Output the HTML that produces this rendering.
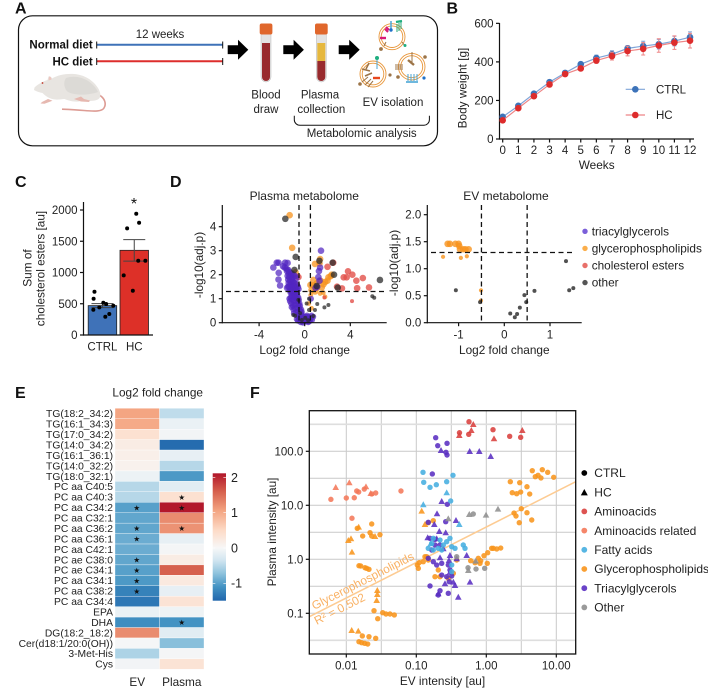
<!DOCTYPE html>
<html lang="en">
<head>
<meta charset="utf-8">
<title>Metabolomic analysis figure</title>
<style>
html,body{margin:0;padding:0;background:#fff;width:708px;height:691px;overflow:hidden}
svg{display:block;font-family:"Liberation Sans",Arial,sans-serif;fill:#222;filter:blur(.3px)}
text{fill:#222}
.lbl{font-size:11.8px}
.tick{font-size:11.5px}
.panel{font-size:16px;font-weight:bold;fill:#111}
.axis{stroke:#111;stroke-width:1.2;fill:none}
.dash{stroke:#111;stroke-width:1.3;stroke-dasharray:5 3.5;fill:none}
</style>
</head>
<body>
<svg id="figure" xmlns="http://www.w3.org/2000/svg" width="708" height="691" viewBox="0 0 708 691">
<defs><linearGradient id="cbar-grad" x1="0" y1="0" x2="0" y2="1"></linearGradient></defs>

<!-- Panel letters -->
<text class="panel" x="15" y="13.5">A</text>
<text class="panel" x="446.5" y="13.5">B</text>
<text class="panel" x="15" y="187">C</text>
<text class="panel" x="170" y="187">D</text>
<text class="panel" x="15" y="398">E</text>
<text class="panel" x="250" y="398">F</text>

<!-- Panel A -->
<g id="panel-a">
  <rect x="18.5" y="15.8" width="419" height="130" rx="14" fill="none" stroke="#111" stroke-width="1.2"/>
  <text x="160" y="38" text-anchor="middle" font-size="11.5">12 weeks</text>
  <text x="92.7" y="48.5" text-anchor="end" font-size="11.5" font-weight="bold" style="fill:#111">Normal diet</text>
  <text x="92.7" y="65.5" text-anchor="end" font-size="11.5" font-weight="bold" style="fill:#111">HC diet</text>
  <path d="M97 44.7H222.5" stroke="#3f72b8" stroke-width="2" fill="none"/>
  <path d="M96.7 41.5V48.5M222.7 41.5V48.5" stroke="#111" stroke-width="1" fill="none"/>
  <path d="M97 61.3H222.5" stroke="#dd2e2c" stroke-width="2" fill="none"/>
  <path d="M96.7 58V65M222.7 58V65" stroke="#111" stroke-width="1" fill="none"/>
  <path d="M227.7 45.3h10.3v-5.6l10.3 10-10.3 10v-5.6h-10.3z" style="fill:#000"/>
  <path d="M283.3 45.3h10.3v-5.6l10.3 10-10.3 10v-5.6h-10.3z" style="fill:#000"/>
  <path d="M338.7 45.3h10.5v-5.6l10.5 10-10.5 10v-5.6h-10.5z" style="fill:#000"/>
  <!-- Tube 1 -->
  <g>
    <path d="M261 33V77a5 5 0 0 0 10 0V33z" style="fill:#e3e3e3" stroke="#bbb" stroke-width=".5"/>
    <path d="M262 43V77a4 4 0 0 0 8 0V43z" style="fill:#982a2d"/>
    <rect x="259.7" y="23.5" width="12.7" height="11" rx="2" style="fill:#e0672c"/>
  </g>
  <!-- Tube 2 -->
  <g>
    <path d="M316.3 33V77a5 5 0 0 0 10 0V33z" style="fill:#e3e3e3" stroke="#bbb" stroke-width=".5"/>
    <path d="M317.3 43H325.3V61H317.3z" style="fill:#e6b83e"/>
    <path d="M317.3 61V77a4 4 0 0 0 8 0V61z" style="fill:#982a2d"/>
    <rect x="315" y="23.5" width="12.7" height="11" rx="2" style="fill:#e0672c"/>
  </g>
  <!-- EV icons -->
  <g fill="none">
    <circle cx="392" cy="36.7" r="13" stroke="#e8963a" stroke-width=".9"/>
    <circle cx="392" cy="36.7" r="10.8" stroke="#e8963a" stroke-width=".9"/>
    <path d="M385 29l3 3M386 27l3 3" stroke="#d81b78" stroke-width="2"/>
    <path d="M380 38h6" stroke="#d81b78" stroke-width="2.4"/>
    <path d="M391 21v9" stroke="#4aa6d6" stroke-width="1.5"/>
    <circle cx="391" cy="30" r="1.7" style="fill:#1e70c8"/>
    <path d="M397 24v8M399 23v8M401 22v7" stroke="#2aa77a" stroke-width="1"/>
    <path d="M396 22l6-1" stroke="#1fae80" stroke-width="2.4"/>
    <path d="M384 46l2-4M402 42l3 4" stroke="#9c7447" stroke-width="1"/>
    <circle cx="381" cy="49" r="1.9" style="fill:#9c7447"/>
    <circle cx="405" cy="45.5" r="1.5" style="fill:#1fae80"/>
  </g>
  <g fill="none">
    <circle cx="373" cy="74" r="13" stroke="#e8963a" stroke-width=".9"/>
    <circle cx="373" cy="74" r="10.8" stroke="#e8963a" stroke-width=".9"/>
    <path d="M377 60v9" stroke="#4aa6d6" stroke-width="1"/>
    <circle cx="377" cy="58" r="2" style="fill:#1fae80"/>
    <path d="M369 63l-3 6M362 69l8 2M365 76l7-3" stroke="#9c7447" stroke-width="1.6"/>
    <path d="M373 78h7" stroke="#e8471c" stroke-width="2.4"/>
    <path d="M362 82l6-5M365 85l6-6M368 87l5-6" stroke="#9c7447" stroke-width="1"/>
    <circle cx="360" cy="84" r="1.8" style="fill:#9c7447"/>
    <circle cx="390" cy="75" r="1.6" style="fill:#9c7447"/>
  </g>
  <g fill="none">
    <circle cx="411.7" cy="66.7" r="13.3" stroke="#e8963a" stroke-width=".9"/>
    <circle cx="411.7" cy="66.7" r="11" stroke="#e8963a" stroke-width=".9"/>
    <path d="M412 52v10M395 65h8M395 67h8M395 69h8" stroke="#9c7447" stroke-width="1"/>
    <path d="M408 60l6 5" stroke="#9c7447" stroke-width="2.4"/>
    <path d="M408 74v7M411 74v7M414 74v7M417 74v7" stroke="#4aa6d6" stroke-width="1"/>
    <path d="M406 82h12" stroke="#4aa6d6" stroke-width="1.6"/>
    <circle cx="424" cy="78" r="1.6" style="fill:#1e70c8"/>
    <circle cx="398" cy="77" r="1.8" style="fill:#9c7447"/>
    <circle cx="425" cy="57" r="1.8" style="fill:#9c7447"/>
  </g>
  <text x="266" y="98.5" text-anchor="middle" font-size="11.5">Blood</text>
  <text x="266" y="113" text-anchor="middle" font-size="11.5">draw</text>
  <text x="320" y="98.5" text-anchor="middle" font-size="11.5">Plasma</text>
  <text x="321.3" y="113" text-anchor="middle" font-size="11.5">collection</text>
  <text x="393" y="106" text-anchor="middle" font-size="11.5">EV isolation</text>
  <path d="M294.3 115.7v4a5.5 5.5 0 0 0 5.5 5.5H424a5.5 5.5 0 0 0 5.4-5.5v-4" fill="none" stroke="#111" stroke-width="1"/>
  <text x="361.7" y="137" text-anchor="middle" font-size="11.5">Metabolomic analysis</text>
  <!-- Rat -->
  <g>
    <path d="M99 95c6 3 7.500 9 5 13-2 3.500-9 3.500-20 2.500-8-.7-15-1-22-1.300" fill="none" stroke="#dd9c94" stroke-width="1.6"/>
    <path d="M34.500 87.500c3-3 8-6 13-7.500l1-3.500c1.500-.5 3 .5 3.500 2 6-3.500 14-5 22-4.500 10 .6 19 6 24 14 2.500 4 3 8 1.500 10-2 3-9 3.500-16 2.500l-5 1c-6 .5-10-1-14-2.500-3 0-6 1-9 .5-6-.5-10-3.500-13-6.500-3-.5-6-1.500-8.500-3z" style="fill:#e8e5e1"/>
    <path d="M66 78c12-4 26 2 32 14-8 3-22 4-30 0-4-3-5-10-2-14z" style="fill:#dcdad6"/>
    <path d="M48 99l-6 3-1.500 1.500 4 .2 8-3zM74 99l7 2.500 8 .5 1-1.500-6-1.500-3-2.500z" style="fill:#e6b8b0"/>
    <circle cx="42.500" cy="83" r=".9" style="fill:#c0392b"/>
    <path d="M49 76.500c1.500-.3 2.500 1 2.500 3l-3 1z" style="fill:#ecc7c0"/>
  </g>
</g>

<!-- Panel B -->
<g id="panel-b">
  <text class="lbl" transform="translate(466.5 88) rotate(-90)" text-anchor="middle">Body weight [g]</text>
  <text class="lbl" x="596.7" y="169" text-anchor="middle">Weeks</text>
</g>

<!-- Panel C -->
<g id="panel-c">
  <text class="lbl" transform="translate(31.5 268) rotate(-90)" text-anchor="middle">Sum of</text>
  <text class="lbl" transform="translate(44.5 268.500) rotate(-90)" text-anchor="middle">cholesterol esters [au]</text>
  <text x="134" y="209" font-size="16" text-anchor="middle" style="fill:#111">*</text>
</g>

<!-- Panel D -->
<g id="panel-d-plasma">
  <text class="lbl" x="304.3" y="200" text-anchor="middle" style="font-size:12px">Plasma metabolome</text>
  <text class="lbl" transform="translate(203 265) rotate(-90)" text-anchor="middle">-log10(adj.p)</text>
  <text class="lbl" x="304.7" y="354" text-anchor="middle">Log2 fold change</text>
</g>
<g id="panel-d-ev">
  <text class="lbl" x="506" y="200" text-anchor="middle" style="font-size:12px">EV metabolome</text>
  <text class="lbl" transform="translate(398 263) rotate(-90)" text-anchor="middle">-log10(adj.p)</text>
  <text class="lbl" x="504.3" y="354" text-anchor="middle">Log2 fold change</text>
</g>
<g id="legend-d"></g>

<!-- Panel E -->
<g id="panel-e">
  <text class="lbl" x="157.7" y="396.700" text-anchor="middle">Log2 fold change</text>
</g>

<!-- Panel F -->
<g id="panel-f">
  <text class="lbl" x="442.5" y="685" text-anchor="middle">EV intensity [au]</text>
  <text class="lbl" transform="translate(276 532) rotate(-90)" text-anchor="middle">Plasma intensity [au]</text>
</g>
<g id="legend-f"></g>
</svg>

<script>
/* ---------- Panel B data ---------- */
const weeks = [0,1,2,3,4,5,6,7,8,9,10,11,12];
const ctrlWeight = [115,172,235,295,343,388,420,440,470,482,492,508,528];
const hcWeight = [97,160,222,283,337,366,407,430,456,468,485,500,510];
const ctrlWeightErr = [8,8,10,10,10,10,15,18,15,25,25,25,28];
const hcWeightErr = [10,12,12,14,12,12,15,20,25,32,35,35,38];
const weightTicks = [0,200,400,600];

/* ---------- Panel C data ---------- */
const cholGroups = ['CTRL','HC'];
const cholMeans = [470,1355];
const cholErrs = [32,172];
const cholTicks = [0,500,1000,1500,2000];
const cholCtrlDots = [693,581,405,443,517,496,469,336,293];
const cholCtrlJitter = [-.28,-.31,-.32,-.11,.03,.13,.38,.24,.1];
const cholHcDots = [1941,1797,1707,1189,1189,955,709];
const cholHcJitter = [.07,.17,-.25,.14,.39,-.37,-.05];

/* ---------- Panel D data: [log2 fold change, -log10 adj p] ---------- */
const plasmaOrange = [[-1.32,4.48],[-1.1,3.12],[-.8,2.1],[1.35,2.65],[1.3,2.47],[.9,2.45],[.76,1.78],[.5,1.57],[.6,1.36],[1.05,1.64],[1.5,1.47],[1.8,1.7],[2.08,1.89],[2.28,1.94],[2.37,2],[1.05,1.43],[1.63,1.25],[1.78,1.08],[1.35,1.22],[.9,1.3],[.53,1.15],[-.7,1.57],[-.85,1.35],[.75,1.55],[1.4,1.75],[1.65,1.6],[2.0,1.75],[.35,.8],[.6,.6]];
const plasmaRed = [[3.8,2.14],[4.18,2],[3.42,1.89],[3.68,1.89],[4.53,1.75],[5.1,1.86],[4.6,1.44],[5.64,1.47],[3.27,1.43],[2.84,1.5],[2.5,2.5],[2,2.33],[4.15,.9],[-.55,1.9],[1.73,1.05]];
const plasmaPurple = [[-2.75,2.3],[-2.45,2.5],[-2.3,2.5],[-2.28,2.08],[-2.3,1.8],[-2.16,1.55],[-1.72,2.5],[-1.5,2.49],[-1.9,2.35],[-1.75,2.3],[-1.6,2.25],[-1.55,2.15],[-1.45,2.2],[-1.4,2.05],[-1.3,2.1],[-1.5,1.95],[-1.35,1.9],[-1.2,1.95],[-1.1,1.85],[-1.45,1.8],[-1.3,1.75],[-1.15,1.75],[-1,1.7],[-1.4,1.65],[-1.25,1.6],[-1.05,1.6],[-.9,1.65],[-1.35,1.5],[-1.2,1.45],[-1.05,1.5],[-.9,1.5],[-.8,1.45],[-1.3,1.35],[-1.15,1.3],[-1,1.35],[-.85,1.3],[-.7,1.35],[-1.25,1.25],[-1.1,1.2],[-.95,1.2],[-.8,1.15],[-.65,1.2],[-1.15,1.1],[-1,1.05],[-.85,1.05],[-.7,1],[-1.1,.95],[-.95,.9],[-.8,.9],[-.6,.9],[-1.05,.7],[-.9,.75],[-.75,.75],[-.55,.75],[-.85,.6],[-.65,.6],[-.45,.6],[-.75,.45],[-.6,.45],[-.4,.5],[-.65,.3],[-.5,.35],[-.3,.4],[-.55,.2],[-.4,.2],[-.25,.25],[-.45,.1],[-.3,.1],[-.15,.15],[-.1,.05],[0,.1],[.1,.05],[.2,.15],[.3,.1],[.35,.25],[.4,.05],[.15,.25],[.05,.25],[.5,.1],[.55,.2],[1.43,3],[1.35,2.3],[1.2,1.9],[1.3,1.75],[1.1,1.5],[.95,1.45],[1.25,2.15],[.55,1],[-1,2],[-.85,1.95],[-.75,1.85],[-1.15,2.05],[-1.55,1.45],[-1.45,1.5],[-.7,1.6],[-.6,1.5],[-.55,1.4],[-1.35,1],[-1.25,1.05],[-1.3,.9],[-.55,1.05],[-.5,.95],[-.65,1.1],[-1.2,.8],[-1.15,.65],[-.45,.8],[-.4,.7],[-1,.55],[-.95,.4],[-.3,.55],[-.25,.45],[-.2,.3],[-.7,.15],[-.6,.08],[-.2,.05],[-.05,.2],[.2,.3],[.45,.15],[.65,.12],[.75,.25],[.6,.3],[.3,.02],[-.35,.02],[-.15,0]];
const plasmaGray = [[-1.7,4.33],[-.79,2.74],[1.29,2.58],[2.45,2.5],[2.57,2],[2.9,1.46],[-.9,2.2],[1.05,1.53],[6.6,1.78],[5.93,1.1],[6.1,1.04],[-1,.32],[-.85,.29],[1.73,.64],[2.08,.74],[1.1,.78],[.9,.53],[.38,1],[.17,.8],[.38,.53],[.76,.28],[-.55,.95],[-.4,.4],[-.25,.11],[.05,.2],[.3,.1]];
const evOrange = [[-1.24,1.46],[-1.19,1.46],[-1.07,1.46],[-1,1.46],[-.985,1.42],[-.97,1.36],[-.9,1.36],[-.85,1.36],[-.78,1.36],[-1.34,1.22],[-.95,1.2],[-.82,1.23],[-.51,.6],[-.51,.41]];
const evGray = [[-1.06,.6],[-.53,.38],[.13,.17],[.23,.1],[.28,.16],[.34,.28],[.44,.51],[.48,.38],[.66,.59],[1.35,1.14],[1.42,.6],[1.51,.64]];
const plasmaYTicks = [0,1,2,3,4];
const plasmaXTicks = [-4,0,4];
const evYTicks = ['0.0','0.5','1.0','1.5','2.0'];
const evXTicks = [-1,0,1];
const volcanoCutoffs = [-.5,.5];
const volcanoPCut = 1.3;
const volcanoLegendLabels = ['triacylglycerols','glycerophospholipids','cholesterol esters','other'];

/* ---------- Panel E data ---------- */
const heatRows = ['TG(18:2_34:2)','TG(16:1_34:3)','TG(17:0_34:2)','TG(14:0_34:2)','TG(16:1_36:1)','TG(14:0_32:2)','TG(18:0_32:1)','PC aa C40:5','PC aa C40:3','PC aa C34:2','PC aa C32:1','PC aa C36:2','PC aa C36:1','PC aa C42:1','PC ae C38:0','PC ae C34:1','PC aa C34:1','PC aa C38:2','PC aa C34:4','EPA','DHA','DG(18:2_18:2)','Cer(d18:1/20:0(OH))','3-Met-His','Cys'];
const heatColumns = ['EV','Plasma'];
const heatEV = [1.05,1,.4,.2,.15,.1,-.1,-.5,-.5,-1,-.95,-.95,-.9,-.9,-.95,-1,-1.05,-1.25,-1.35,-.12,-1.15,1.25,-.02,-.55,-.05];
const heatPlasma = [-.45,-.12,-.05,-1.45,-.15,-.5,-1.05,-.2,.4,2.1,1.25,1.2,-.15,-.03,.2,1.6,.25,-.15,.35,-.08,-1.1,-.2,-.75,-.03,.35];
const heatSigEV = [9,11,12,14,15,16,17];
const heatSigPlasma = [8,9,11,20];
const colorValues = [-1.5,-1.1,-.7,-.35,0,.5,1.05,1.6,2.1];
const colorHexes = ['#2166ac','#4393c3','#92c5de','#d1e5f0','#f7f7f7','#fddbc7','#f4a582','#d6604d','#b2182b'];
const colorbarTicks = [2,1,0,-1];

/* ---------- Panel F data: [log10 EV intensity, log10 plasma intensity] ---------- */
const aminoCirc = [[-.247,2.548],[-.383,2.344],[-.251,2.315],[.096,2.4],[.334,2.278],[.491,2.259]];
const aminoTri = [[-.386,2.302],[-.186,2.506],[-.214,2.394],[.11,2.241],[.514,2.394]];
const relatedCirc = [[-2.22,1.11],[-2,1.135],[-1.886,1.14],[-1.851,1.265],[-1.823,1.246],[-1.743,1.3],[-1.637,1.21],[-1.58,1.228],[-1.219,1.265],[-1.919,.76]];
const relatedTri = [[-2.151,1.339],[-1.957,1.426],[-1.719,1.352],[-1.651,1.228]];
const fattyCirc = [[-.904,1.611],[-.894,1.426],[-.804,1.333],[-.714,1.381],[-.566,1.437],[-.476,1.556],[-.509,1.08],[-.78,.296],[-.829,.204],[-.757,.389],[-.661,.357],[-.614,.265],[-.686,.204],[-.519,.389],[-.494,.233],[-.447,.204],[-.329,.265],[-.304,.204],[-.494,-.106],[-.494,-.23],[-.757,.172],[-.566,.326],[-.637,.172]];
const fattyTri = [[-.566,1.241],[-.9,1.019],[-.386,.654],[-.794,.296]];
const glycCirc = [[.657,1.641],[.8,1.659],[.877,1.611],[.963,1.519],[.7,1.53],[.739,1.556],[.781,1.506],[.343,1.437],[.477,1.419],[.581,1.344],[.371,1.233],[.434,1.215],[.491,1.246],[.62,1.209],[.5,.937],[.396,.857],[.424,.802],[.581,.863],[.649,.728],[.471,.678],[-.223,-.026],[-.161,-.063],[-.114,.019],[-.08,-.026],[-.09,-.074],[-.033,.067],[.02,.122],[.077,.204],[.149,.191],[.206,.209],[.014,-.074],[.1,.204],[-1.766,.431],[-1.661,.493],[-1.637,.431],[-1.519,.456],[-1.819,-.119],[-1.794,-.124],[-1.733,-.156],[-1.709,-.167],[-1.676,-.185],[-1.604,-.952],[-1.551,-1.1],[-1.48,-.989],[-1.433,-1.013],[-1.376,-1.013],[-1.314,-1.031],[-1.771,-1.42],[-1.676,-1.433],[-1.58,-1.463],[-1.819,-1.526],[-1.78,-1.544],[-1.737,-1.556],[-1.694,-1.569],[-1.637,.654],[-1.843,.574],[-.971,-.167],[-.961,-.063],[-.9,-.044],[-.851,.048],[-.829,-.013],[-.986,-.106],[-.876,.048],[-.733,-.322],[-.686,-.198],[-.661,-.322],[-.471,-.259],[-.423,-.013],[-.829,.678],[-.757,.715],[-.543,-.352]];
const glycTri = [[-1.933,.389],[-1.971,.357],[-1.919,.141],[-1.59,.431],[-1.557,-.569],[-1.557,-.643],[-1.566,-.754],[-1.923,-1.309],[-1.829,-1.322],[-1.823,.604],[-.923,.9],[-.876,.654]];
const tagCirc = [[-.723,2.252],[-.694,2.104],[-.561,2.148],[-.576,1.981],[-.561,1.931],[-.771,1.58],[-.557,1.019],[-.829,.685],[-.58,.696],[-.804,.389],[-.733,.37],[-.78,.172],[-.829,.019],[-.757,-.044],[-.709,-.106],[-.637,-.074],[-.543,-.106],[-.519,-.198],[-.637,-.291],[-.566,-.322],[-.494,-.309],[-.804,-.494],[-.661,-.581],[-.543,-.63],[-.686,-.661],[-.733,.265],[-.661,.265],[-.529,-.415]];
const tagTri = [[-.647,2.024],[-.237,2.006],[-.1,2.006],[.063,1.913],[-.637,1.08],[-.704,.852],[-.433,.728],[-.743,.654],[-.671,.524],[-.58,.5],[-.837,.407],[-.709,.389],[-.614,.204],[-.661,.037],[-.519,.08],[-.533,-.013],[-.423,.019],[-.28,.08],[-.519,-.23],[-.59,-.444],[-.471,-.415],[-.233,-.415],[-.686,-.63],[-.4,-.693],[-.447,-.476]];
const otherCirc = [[-.186,.839],[-.261,-.156],[-.147,-.18],[-.023,-.167],[-.423,.048]];
const otherTri = [[-.243,.839],[-.004,.826],[.167,.937],[-.151,-.026],[-.257,-.198],[-.543,.759]];
const scatterXTickLog = [-2,-1,0,1];
const scatterXTickLabels = ['0.01','0.10','1.00','10.00'];
const scatterYTickLog = [2,1,0,-1];
const scatterYTickLabels = ['100.0','10.0','1.0','0.1'];
const scatterXGridLog = [-1.5,-.5,.5,-2,-1,0,1];
const scatterYGridLog = [2.5,2,1.5,1,.5,0,-.5,-1,-1.5];
const trendSlope = .657;
const trendIntercept = .598;
const scatterLegendLabels = ['CTRL','HC','Aminoacids','Aminoacids related','Fatty acids','Glycerophospholipids','Triacylglycerols','Other'];

/* ---------- helpers ---------- */
const NS = 'http://www.w3.org/2000/svg';
function make(tag, attrs, parent, text) {
  const n = document.createElementNS(NS, tag);
  for (const k in attrs) n.setAttribute(k, attrs[k]);
  if (text !== undefined) n.textContent = text;
  parent.appendChild(n);
  return n;
}
function drawLine(parent, x1, y1, x2, y2, cls, name) {
  const l = make('line', {x1:x1, y1:y1, x2:x2, y2:y2, class:cls}, parent);
  
  
  return l;
}
function yAxisTicks(parent, vals, labels, scale, axisX, prefix) {
  vals.forEach((v, i) => {
    const y = scale(v);
    drawLine(parent, axisX - 3.5, y, axisX, y, 'axis', prefix + '-y-tick');
    const t = make('text', {x: axisX - 6, y: y + 4, 'text-anchor': 'end', class: 'tick'}, parent, labels[i]);
    
    
  });
}
function xAxisTicks(parent, vals, labels, scale, axisY, labelY, prefix) {
  vals.forEach((v, i) => {
    const x = scale(v);
    drawLine(parent, x, axisY, x, axisY + 3.5, 'axis', prefix + '-x-tick');
    const t = make('text', {x: x, y: labelY, 'text-anchor': 'middle', class: 'tick'}, parent, labels[i]);
    
    
  });
}
function dot(parent, cx, cy, r, fill, opacity, name) {
  const c = make('circle', {cx: cx, cy: cy, r: r, opacity: opacity}, parent);
  c.style.fill = fill;
  
  
  return c;
}
function triangle(parent, cx, cy, s, fill, opacity, name) {
  const h = s * .9;
  const p = make('polygon', {points: (cx - s/2) + ',' + (cy + h/2) + ' ' + (cx + s/2) + ',' + (cy + h/2) + ' ' + cx + ',' + (cy - h/2), opacity: opacity}, parent);
  p.style.fill = fill;
  
  
  return p;
}

/* ---------- Panel B ---------- */
(function () {
  const g = document.getElementById('panel-b');
  const x = w => 502.7 + w * 15.61;
  const y = v => 139 - v * .19278;
  drawLine(g, 499.5, 23, 499.5, 139.600, 'axis', 'body-weight-y-axis');
  drawLine(g, 499, 139, 694, 139, 'axis', 'body-weight-x-axis');
  yAxisTicks(g, weightTicks, weightTicks, y, 499.5, 'body-weight');
  xAxisTicks(g, weeks, weeks, x, 139, 154, 'body-weight');
  function series(vals, errs, lineColor, color, name) {
    errs.forEach((e, i) => {
      const b = make('path', {d: 'M' + (x(weeks[i]) - 2) + ' ' + y(vals[i] + e) + 'h4M' + x(weeks[i]) + ' ' + y(vals[i] + e) + 'V' + y(vals[i] - e) + 'M' + (x(weeks[i]) - 2) + ' ' + y(vals[i] - e) + 'h4', stroke: lineColor, 'stroke-width': 1, fill: 'none'}, g);
      
      
    });
    const pl = make('polyline', {points: vals.map((v, i) => x(weeks[i]) + ',' + y(v)).join(' '), stroke: lineColor, 'stroke-width': 1.2, fill: 'none'}, g);
    
    
    vals.forEach((v, i) => dot(g, x(weeks[i]), y(v), 3.3, color, 1, name + '-point'));
  }
  series(ctrlWeight, ctrlWeightErr, '#7fa4d8', '#3d73b9', 'ctrl-weight');
  series(hcWeight, hcWeightErr, '#ee8586', '#dd2c2c', 'hc-weight');
  const legendNames = ['CTRL', 'HC'];
  const legendCols = [['#7fa4d8', '#3d73b9'], ['#ee8586', '#dd2c2c']];
  const legendY = [89.3, 115];
  legendNames.forEach((n, i) => {
    const l = make('line', {x1: 625.7, x2: 645, y1: legendY[i], y2: legendY[i], stroke: legendCols[i][0], 'stroke-width': 1.2}, g);
    
    
    dot(g, 635.3, legendY[i], 3.3, legendCols[i][1], 1, 'body-weight-legend-marker');
    const t = make('text', {x: 656, y: legendY[i] + 4, class: 'tick'}, g, n);
    
    
  });
})();

/* ---------- Panel C ---------- */
(function () {
  const g = document.getElementById('panel-c');
  const y = v => 335 - v * .0625;
  const bandL = [88.2, 120];
  const bandW = 28.5;
  const fills = ['#3f72b8', '#dd3028'];
  cholGroups.forEach((name, i) => {
    const r = make('rect', {x: bandL[i], y: y(cholMeans[i]), width: bandW, height: 335 - y(cholMeans[i]), stroke: '#222', 'stroke-width': .8}, g);
    r.style.fill = fills[i];
    
    
    const cx = bandL[i] + bandW / 2;
    const e = make('path', {d: 'M' + (cx - 11) + ' ' + y(cholMeans[i] + cholErrs[i]) + 'h22M' + cx + ' ' + y(cholMeans[i] + cholErrs[i]) + 'V' + y(cholMeans[i] - cholErrs[i]) + 'M' + (cx - 11) + ' ' + y(cholMeans[i] - cholErrs[i]) + 'h22', stroke: '#444', 'stroke-width': 1, fill: 'none'}, g);
    
    
  });
  drawLine(g, 83.5, 202, 83.5, 335.600, 'axis', 'cholesterol-y-axis');
  drawLine(g, 83, 335, 153, 335, 'axis', 'cholesterol-x-axis');
  yAxisTicks(g, cholTicks, cholTicks, y, 83.5, 'cholesterol');
  cholGroups.forEach((name, i) => {
    const t = make('text', {x: bandL[i] + bandW / 2, y: 350.5, 'text-anchor': 'middle', class: 'tick'}, g, name);
    
    
  });
  cholCtrlDots.forEach((v, i) => dot(g, bandL[0] + bandW / 2 + cholCtrlJitter[i] * bandW, y(v), 2, '#000', 1, 'ctrl-sample-dot'));
  cholHcDots.forEach((v, i) => dot(g, bandL[1] + bandW / 2 + cholHcJitter[i] * bandW, y(v), 2, '#000', 1, 'hc-sample-dot'));
})();

/* ---------- Panel D ---------- */
(function () {
  const g = document.getElementById('panel-d-plasma');
  const x = v => 304.7 + v * 11.4;
  const y = v => 322.7 - v * 24;
  const sizeOf = (p, small) => p >= volcanoPCut ? 3.3 : small;
  plasmaOrange.forEach(p => dot(g, x(p[0]), y(p[1]), sizeOf(p[1], 2.4), '#f7931e', .75, 'plasma-glycerophospholipid-point'));
  plasmaRed.forEach(p => dot(g, x(p[0]), y(p[1]), sizeOf(p[1], 2), '#e2504a', .8, 'plasma-cholesterol-ester-point'));
  plasmaPurple.forEach(p => dot(g, x(p[0]), y(p[1]), sizeOf(p[1], 3), '#5226c0', .72, 'plasma-triacylglycerol-point'));
  plasmaGray.forEach(p => dot(g, x(p[0]), y(p[1]), sizeOf(p[1], 2), '#2b2b2b', .75, 'plasma-other-point'));
  drawLine(g, 222.3, 205, 222.3, 323.300, 'axis', 'plasma-volcano-y-axis');
  drawLine(g, 222, 322.7, 386.7, 322.7, 'axis', 'plasma-volcano-x-axis');
  yAxisTicks(g, plasmaYTicks, plasmaYTicks, y, 222.3, 'plasma-volcano');
  xAxisTicks(g, plasmaXTicks, plasmaXTicks, x, 322.7, 338.5, 'plasma-volcano');
  volcanoCutoffs.forEach(c => drawLine(g, x(c), 205, x(c), 322.7, 'dash', 'plasma-fold-change-cutoff'));
  drawLine(g, 226, y(volcanoPCut), 386.7, y(volcanoPCut), 'dash', 'plasma-significance-cutoff');

  const h = document.getElementById('panel-d-ev');
  const ex = v => 504.3 + v * 45.7;
  const ey = v => 322.7 - v * 54;
  evOrange.forEach(p => dot(h, ex(p[0]), ey(p[1]), sizeOf(p[1], 2.1), '#f7931e', .8, 'ev-glycerophospholipid-point'));
  evGray.forEach(p => dot(h, ex(p[0]), ey(p[1]), 2, '#333', .85, 'ev-other-point'));
  drawLine(h, 427.3, 205, 427.3, 323.300, 'axis', 'ev-volcano-y-axis');
  drawLine(h, 427, 322.7, 581.7, 322.7, 'axis', 'ev-volcano-x-axis');
  yAxisTicks(h, evYTicks.map(Number), evYTicks, ey, 427.3, 'ev-volcano');
  xAxisTicks(h, evXTicks, evXTicks, ex, 322.7, 338.5, 'ev-volcano');
  volcanoCutoffs.forEach(c => drawLine(h, ex(c), 205, ex(c), 322.7, 'dash', 'ev-fold-change-cutoff'));
  drawLine(h, 431, ey(volcanoPCut), 573, ey(volcanoPCut), 'dash', 'ev-significance-cutoff');

  const l = document.getElementById('legend-d');
  const cols = ['#7b5fd9', '#fbae4b', '#e8706a', '#555'];
  volcanoLegendLabels.forEach((n, i) => {
    const yy = 231.3 + i * 17.1;
    dot(l, 585, yy, 2.7, cols[i], 1, 'volcano-legend-marker');
    const t = make('text', {x: 591.7, y: yy + 4, class: 'lbl'}, l, n);
    
    
  });
})();

/* ---------- Panel E ---------- */
function hexToRgb(h) {
  return [parseInt(h.slice(1, 3), 16), parseInt(h.slice(3, 5), 16), parseInt(h.slice(5, 7), 16)];
}
function heatColor(v) {
  let i = 0;
  while (i < colorValues.length - 2 && v > colorValues[i + 1]) i++;
  const t = Math.max(0, Math.min(1, (v - colorValues[i]) / (colorValues[i + 1] - colorValues[i])));
  const a = hexToRgb(colorHexes[i]);
  const b = hexToRgb(colorHexes[i + 1]);
  return 'rgb(' + a.map((c, k) => Math.round(c + (b[k] - c) * t)).join(',') + ')';
}
(function () {
  const g = document.getElementById('panel-e');
  const rowH = 10.44;
  const colW = 44.5;
  const rowY = i => 408.3 + i * rowH;
  const colX = j => 115 + j * colW;
  const cols = [heatEV, heatPlasma];
  const sigs = [heatSigEV, heatSigPlasma];
  cols.forEach((vals, j) => {
    vals.forEach((v, i) => {
      const r = make('rect', {x: colX(j), y: rowY(i), width: colW, height: rowH, stroke: '#fff', 'stroke-width': .35}, g);
      r.style.fill = heatColor(v);
      
      
    });
    sigs[j].forEach(i => {
      const s = make('text', {x: colX(j) + colW / 2 + (j ? 0 : -.5), y: rowY(i) + rowH / 2 + 2.8, 'text-anchor': 'middle', 'font-size': 7.5, 'font-family': '"DejaVu Sans",sans-serif'}, g, '★');
      s.style.fill = '#111';
      
      
    });
    const t = make('text', {x: colX(j) + colW / 2, y: 686, 'text-anchor': 'middle', class: 'lbl'}, g, heatColumns[j]);
    
    
  });
  heatRows.forEach((name, i) => {
    const t = make('text', {x: 113, y: rowY(i) + rowH / 2 + 3.6, 'text-anchor': 'end', 'font-size': 10.3}, g, name);
    
    
  });
  // colour bar
  const grad = document.getElementById('cbar-grad');
  const cbTop = 2.116;
  const cbBottom = -1.493;
  const cbY = v => 548 - v * 35.3;
  colorValues.slice().reverse().forEach((v, i) => {
    const s = make('stop', {offset: ((cbTop - v) / (cbTop - cbBottom)).toFixed(4), 'stop-color': colorHexes[colorHexes.length - 1 - i]}, grad);
    
    
  });
  const bar = make('rect', {x: 212.7, y: cbY(cbTop), width: 13.3, height: cbY(cbBottom) - cbY(cbTop)}, g);
  bar.style.fill = 'url(#cbar-grad)';
  
  
  colorbarTicks.forEach(v => {
    const m = make('path', {d: 'M212.7 ' + cbY(v) + 'h2.6M226 ' + cbY(v) + 'h-2.6', stroke: '#fff', 'stroke-width': .6, fill: 'none'}, g);
    
    
    const t = make('text', {x: 231, y: cbY(v) + 4.4, 'font-size': 12.5}, g, v);
    
    
  });
})();

/* ---------- Panel F ---------- */
(function () {
  const g = document.getElementById('panel-f');
  const x = l => 416.3 + (l + 1) * 70;
  const y = l => 505.3 + (1 - l) * 54;
  const L = 309.3, R = 575.7, T = 410.7, B = 654;
  const xLog = px => (px - 416.3) / 70 - 1;
  scatterXGridLog.forEach(v => {
    const l = drawLine(g, x(v), T, x(v), B, '', 'scatter-vertical-gridline');
    l.setAttribute('stroke', '#c9c9c9');
    l.setAttribute('stroke-width', 1);
  });
  scatterYGridLog.forEach((v, i) => {
    const edge = i === 0 || i === scatterYGridLog.length - 1;
    const l = drawLine(g, L, y(v), R, y(v), '', 'scatter-horizontal-gridline');
    l.setAttribute('stroke', edge ? '#dedede' : '#c9c9c9');
    l.setAttribute('stroke-width', edge ? 1.6 : 1);
  });
  const tr = drawLine(g, L, y(trendSlope * xLog(L) + trendIntercept), R, y(trendSlope * xLog(R) + trendIntercept), '', 'glycerophospholipid-trendline');
  tr.setAttribute('stroke', '#fdcb92');
  tr.setAttribute('stroke-width', 1.5);
  const a = make('text', {transform: 'translate(314.3 610) rotate(-26.9)', 'font-size': 11.8}, g, 'Glycerophospholipids');
  a.style.fill = '#f9b164';
  
  
  const b = make('text', {transform: 'translate(316.7 625) rotate(-26.9)', 'font-size': 11.8}, g, 'R² = 0.502');
  b.style.fill = '#f9b164';
  
  
  const series = [
    ['aminoacid', aminoCirc, aminoTri, '#d9403e'],
    ['aminoacid-related', relatedCirc, relatedTri, '#f4795a'],
    ['glycerophospholipid', glycCirc, glycTri, '#f8951d'],
    ['triacylglycerol', tagCirc, tagTri, '#5a2fc2'],
    ['fatty-acid', fattyCirc, fattyTri, '#45aee0'],
    ['other', otherCirc, otherTri, '#8f8f8f']
  ];
  series.forEach(s => {
    s[1].forEach(p => dot(g, x(p[0]), y(p[1]), 2.7, s[3], .88, s[0] + '-ctrl-point'));
    s[2].forEach(p => triangle(g, x(p[0]), y(p[1]), 6.6, s[3], .88, s[0] + '-hc-point'));
  });
  const frame = make('rect', {x: L, y: T, width: R - L, height: B - T, fill: 'none', stroke: '#111', 'stroke-width': 1.3}, g);
  
  
  yAxisTicks(g, scatterYTickLog, scatterYTickLabels, y, L, 'scatter');
  xAxisTicks(g, scatterXTickLog, scatterXTickLabels, x, B, 669.5, 'scatter');

  const l = document.getElementById('legend-f');
  const rowYs = i => 473 + i * 19.2;
  const cols = ['#000', '#000', '#d9403e', '#f4795a', '#45aee0', '#f8951d', '#5a2fc2', '#8f8f8f'];
  scatterLegendLabels.forEach((n, i) => {
    if (i === 1) triangle(l, 584.3, rowYs(i), 7, cols[i], 1, 'scatter-legend-marker');
    else dot(l, 584.3, rowYs(i), 2.9, cols[i], i === 0 ? 1 : .9, 'scatter-legend-marker');
    const t = make('text', {x: 594.3, y: rowYs(i) + 4.2, 'font-size': 12}, l, n);
    
    
  });
})();
</script>
</body>
</html>
